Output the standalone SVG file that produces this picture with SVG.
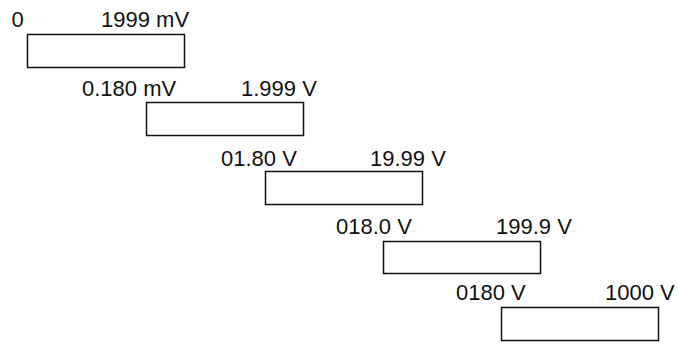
<svg xmlns="http://www.w3.org/2000/svg" width="678" height="343" viewBox="0 0 678 343">
<style>
.box{fill:#fff;stroke:#111;stroke-width:1.5}
.lbl{font-family:"Liberation Sans",Arial,sans-serif;font-size:22px;fill:#111}
</style>
<rect width="678" height="343" fill="#fff"/>
<g id="range1">
<rect class="box" x="27.5" y="34.5" width="157" height="33"/>
<text class="lbl" x="11.5" y="27">0</text>
<text class="lbl" x="101" y="27">1999 mV</text>
</g>
<g id="range2">
<rect class="box" x="146.5" y="102.5" width="157" height="33"/>
<text class="lbl" x="82" y="96">0.180 mV</text>
<text class="lbl" x="241" y="96">1.999 V</text>
</g>
<g id="range3">
<rect class="box" x="265.5" y="171.5" width="157" height="33"/>
<text class="lbl" x="221" y="166">01.80 V</text>
<text class="lbl" x="370" y="166">19.99 V</text>
</g>
<g id="range4">
<rect class="box" x="383.5" y="241.5" width="157" height="32"/>
<text class="lbl" x="336" y="234">018.0 V</text>
<text class="lbl" x="496" y="234">199.9 V</text>
</g>
<g id="range5">
<rect class="box" x="501.5" y="307.5" width="157" height="33"/>
<text class="lbl" x="456" y="300">0180 V</text>
<text class="lbl" x="605" y="300">1000 V</text>
</g>
<g id="connectors"></g>
</svg>
